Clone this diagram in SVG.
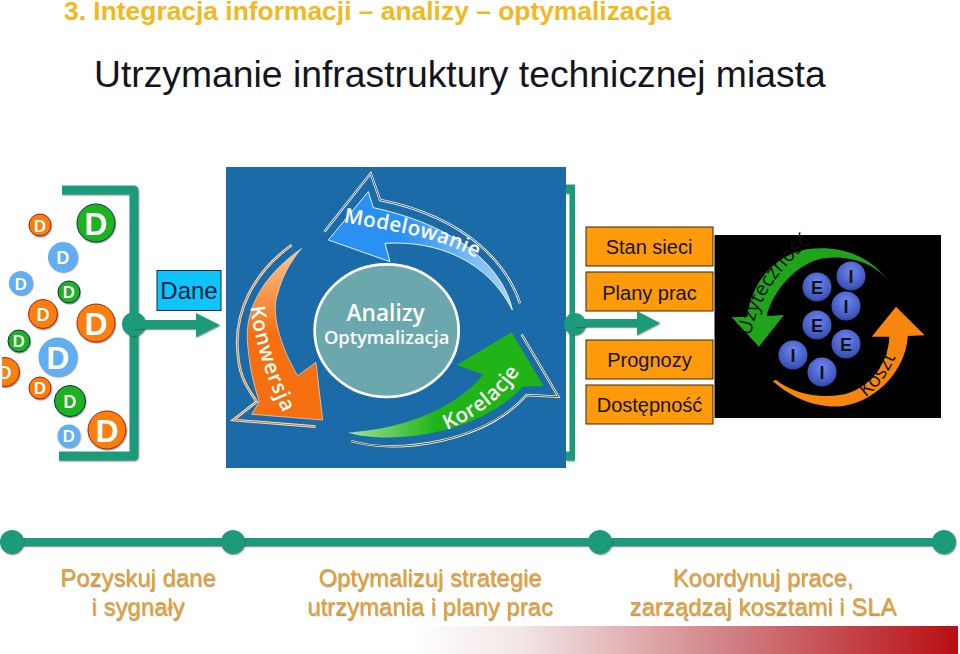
<svg xmlns="http://www.w3.org/2000/svg" width="960" height="654" viewBox="0 0 960 654">
<style>
text{font-family:"Liberation Sans",Arial,sans-serif}
.title{font-size:26.4px;font-weight:bold;fill:#f2b81e}
.sub{font-size:37.3px;fill:#14141e}
.dw{font-weight:bold;fill:#fff;text-anchor:middle}
.o{fill:#fb7f0b;stroke:#b01c0c;stroke-width:1}
.g{fill:#1fb41c;stroke:#0c2a66;stroke-width:1}
.b{fill:#62aef2}
.box{fill:#ff9a0a;stroke:#3a2408;stroke-width:1}
.bt{font-size:20px;fill:#14141e;text-anchor:middle}
.ball{fill:url(#ball)}
.bl{font-size:18px;font-weight:bold;fill:#111;text-anchor:middle}
.cap{font-size:23.9px;fill:#e8a02c;text-anchor:middle;filter:url(#sh)}
.line{fill:none;stroke:#1f9b7a;stroke-width:9;stroke-linejoin:round;filter:url(#sh)}
.fillg{fill:#1f9b7a;filter:url(#sh)}
.hand{font-family:"Open Sans","DejaVu Sans",sans-serif;fill:#fff;font-size:62px;font-weight:600}
.dark{font-family:"Open Sans","DejaVu Sans",sans-serif;fill:#111;font-size:60px}
</style>
<defs>
<filter id="sh" x="-10%" y="-30%" width="120%" height="160%"><feDropShadow dx="0.6" dy="1.2" stdDeviation="0.7" flood-color="#444" flood-opacity="0.55"/></filter>
<linearGradient id="fade" x1="410" y1="0" x2="958" y2="0" gradientUnits="userSpaceOnUse"><stop offset="0" stop-color="#fff"/><stop offset="0.2" stop-color="#f3e6e6"/><stop offset="0.6" stop-color="#cf7c80"/><stop offset="1" stop-color="#b80e12"/></linearGradient>
<linearGradient id="gb" x1="310" y1="0" x2="862" y2="0" gradientUnits="userSpaceOnUse"><stop offset="0.4" stop-color="#2a90f4"/><stop offset="1" stop-color="#a8d4f6"/></linearGradient>
<linearGradient id="gg" x1="368" y1="0" x2="955" y2="0" gradientUnits="userSpaceOnUse"><stop offset="0" stop-color="#a6e09a"/><stop offset="0.45" stop-color="#20b418"/></linearGradient>
<linearGradient id="go" x1="0" y1="250" x2="0" y2="765" gradientUnits="userSpaceOnUse"><stop offset="0" stop-color="#fbc590"/><stop offset="0.5" stop-color="#f56f10"/></linearGradient>
<radialGradient id="ball" cx="0.5" cy="0.35" r="0.7"><stop offset="0" stop-color="#6f86f0"/><stop offset="0.8" stop-color="#3d55bb"/><stop offset="1" stop-color="#2a3a80"/></radialGradient>
<path id="pM" d="M355 172C480 195 650 215 770 288"/>
<path id="pK" d="M76 425C90 540 130 660 190 775"/>
<path id="pR" d="M665 795C760 755 840 695 890 610"/>
<path id="pU" d="M572 468C590 370 650 265 770 175"/>
<path id="pO" d="M915 652C960 620 990 575 1020 500"/>
</defs>

<text class="title" x="64" y="20">3. Integracja informacji – analizy – optymalizacja</text>
<text class="sub" x="94" y="87">Utrzymanie infrastruktury technicznej miasta</text>

<g id="panel">
<rect x="226" y="167" width="340" height="301" fill="#1c6ba9"/>
<g transform="translate(225 165) scale(.33333)">
<g id="arrow-modelowanie">
<path d="M885 415C850 310 740 160 465 105L437 25L298 200" fill="none" stroke="#fff" stroke-width="7"/>
<path d="M885 415C850 310 740 160 465 105L437 25L298 200" fill="none" stroke="#35587f" stroke-width="3"/>
<path d="M862 435C840 330 730 190 445 128L430 80L310 225L495 290L480 235C640 225 790 290 862 435Z" fill="url(#gb)" stroke="#e8f2fa" stroke-width="3"/>
<text class="hand"><textPath href="#pM" textLength="415" lengthAdjust="spacing">Modelowanie</textPath></text>
</g>
<g id="arrow-konwersja">
<path d="M200 240C90 320 20 440 40 580C45 640 75 680 95 710L25 765L272 785" fill="none" stroke="#f4e4d0" stroke-width="8"/>
<path d="M200 240C90 320 20 440 40 580C45 640 75 680 95 710L25 765L272 785" fill="none" stroke="#c97a2a" stroke-width="3"/>
<path d="M230 250C130 320 55 420 68 540C75 620 90 670 103 710L80 748L293 765L273 592L218 632C180 570 130 450 160 380C170 340 195 290 230 250Z" fill="url(#go)" stroke="#f6e2cc" stroke-width="2"/>
<text class="hand"><textPath href="#pK" textLength="335" lengthAdjust="spacing">Konwersja</textPath></text>
</g>
<g id="arrow-korelacje">
<path d="M378 828C520 870 780 830 905 690L1000 695L890 508" fill="none" stroke="#fff" stroke-width="7"/>
<path d="M378 828C520 870 780 830 905 690L1000 695L890 508" fill="none" stroke="#4c5a1e" stroke-width="3"/>
<path d="M368 803C500 840 760 810 893 665L955 662L860 502L695 600L775 628C700 720 560 790 368 803Z" fill="url(#gg)"/>
<text class="hand"><textPath href="#pR" textLength="285" lengthAdjust="spacing">Korelacje</textPath></text>
</g>
<g id="center">
<ellipse cx="485" cy="497" rx="216" ry="199" fill="#6aa8ae" stroke="#fff" stroke-width="8"/>
<text class="hand" x="482" y="468" text-anchor="middle" style="font-size:68px">Analizy</text>
<text class="hand" x="485" y="537" text-anchor="middle" style="font-size:55px">Optymalizacja</text>
</g>
</g>
</g>

<g id="connectors">
<path class="line" d="M62 190H134V456H59"/>
<circle class="fillg" cx="134" cy="324" r="12"/>
<path class="fillg" d="M134 320H196V313L220 325L196 337V329H134Z"/>
<path class="line" d="M566 189H574V456H566"/>
<circle class="fillg" cx="575" cy="324" r="11"/>
<path class="fillg" d="M575 319H637V311L660 323L637 335V327H575Z"/>
<rect class="fillg" x="12" y="538" width="932" height="8"/>
<circle class="fillg" cx="12" cy="542" r="12"/>
<circle class="fillg" cx="233" cy="542" r="12"/>
<circle class="fillg" cx="600" cy="542" r="12"/>
<circle class="fillg" cx="944" cy="542" r="12"/>
</g>

<g id="data-dots">
<clipPath id="c"><rect x="2" y="180" width="200" height="290"/></clipPath>
<g clip-path="url(#c)" filter="url(#sh)">
<circle class="o" cx="40" cy="225" r="11"/><text class="dw" x="40" y="231.500" font-size="17">D</text>
<circle class="g" cx="96" cy="223" r="19"/><text class="dw" x="96" y="234.500" font-size="32">D</text>
<circle class="b" cx="63" cy="257" r="15"/><text class="dw" x="63" y="263.500" font-size="18">D</text>
<circle class="b" cx="21" cy="283" r="12"/><text class="dw" x="21" y="289.500" font-size="17">D</text>
<circle class="g" cx="69" cy="292" r="11"/><text class="dw" x="69" y="298" font-size="17">D</text>
<circle class="o" cx="43" cy="314" r="14.500"/><text class="dw" x="43" y="320.500" font-size="18">D</text>
<circle class="o" cx="96" cy="323" r="19"/><text class="dw" x="96" y="334.500" font-size="32">D</text>
<circle class="g" cx="19" cy="341" r="11"/><text class="dw" x="19" y="347" font-size="17">D</text>
<circle class="b" cx="58" cy="357" r="19.500"/><text class="dw" x="58" y="368.500" font-size="32">D</text>
<circle class="o" cx="5" cy="372" r="14.500"/><text class="dw" x="5" y="378.500" font-size="18">D</text>
<circle class="o" cx="40" cy="388" r="11"/><text class="dw" x="40" y="394" font-size="17">D</text>
<circle class="g" cx="70" cy="401" r="15.500"/><text class="dw" x="70" y="407.500" font-size="18">D</text>
<circle class="b" cx="69" cy="436" r="11.500"/><text class="dw" x="69" y="442" font-size="17">D</text>
<circle class="o" cx="107" cy="430" r="19"/><text class="dw" x="107" y="441.500" font-size="32">D</text>
</g>
</g>

<g id="dane"><rect x="157" y="270.500" width="64" height="40" fill="#0dc4fb" stroke="#0b2a4a"/><text x="189" y="299" font-size="24" fill="#0a1a3a" text-anchor="middle">Dane</text></g>

<g id="stan-sieci"><rect class="box" x="586" y="227" width="127" height="39"/><text class="bt" x="649" y="254">Stan sieci</text></g>
<g id="plany-prac"><rect class="box" x="586" y="272" width="127" height="39"/><text class="bt" x="649.500" y="300">Plany prac</text></g>
<g id="prognozy"><rect class="box" x="586" y="340" width="127" height="39"/><text class="bt" x="649.500" y="367">Prognozy</text></g>
<g id="dostepnosc"><rect class="box" x="586" y="385" width="127" height="39"/><text class="bt" x="649.500" y="412">Dostępność</text></g>

<g id="value-panel">
<rect x="714.500" y="235" width="226.500" height="183"/>
<g transform="translate(560 180) scale(.33333)">
<path d="M992 312C930 220 830 195 740 208C650 225 575 300 562 410L515 412L597 500L672 405L620 408C640 330 710 250 790 235C870 225 950 250 992 312Z" fill="#22a31c"/>
<path d="M1008 380L1094 466L1043 468C1040 560 960 660 850 678C770 688 690 650 638 603L648 600C700 640 770 655 840 645C930 630 985 550 988 470L935 470Z" fill="#f7860f"/>
<text class="dark"><textPath href="#pU" textLength="340" lengthAdjust="spacingAndGlyphs">Użyteczność</textPath></text>
<text class="dark"><textPath href="#pO" textLength="155" lengthAdjust="spacing">Koszt</textPath></text>
</g>
<g id="e1"><circle class="ball" cx="817" cy="287" r="14.500"/><text class="bl" x="817" y="293.500">E</text></g>
<g id="i1"><circle class="ball" cx="851" cy="276" r="14.500"/><text class="bl" x="851" y="282.500">I</text></g>
<g id="i2"><circle class="ball" cx="846" cy="306" r="14.500"/><text class="bl" x="846" y="312.500">I</text></g>
<g id="e2"><circle class="ball" cx="817" cy="325" r="14.500"/><text class="bl" x="817" y="331.500">E</text></g>
<g id="e3"><circle class="ball" cx="846" cy="344" r="14.500"/><text class="bl" x="846" y="350.500">E</text></g>
<g id="i3"><circle class="ball" cx="793" cy="355" r="14.500"/><text class="bl" x="793" y="361.500">I</text></g>
<g id="i4"><circle class="ball" cx="822" cy="372" r="14.500"/><text class="bl" x="822" y="378.500">I</text></g>
</g>

<g id="captions">
<text class="cap" x="138" y="586">Pozyskuj dane</text><text class="cap" x="138" y="615">i sygnały</text>
<text class="cap" x="430" y="586">Optymalizuj strategie</text><text class="cap" x="430" y="615">utrzymania i plany prac</text>
<text class="cap" x="763" y="586">Koordynuj prace,</text><text class="cap" x="763" y="615">zarządzaj kosztami i SLA</text>
</g>
<rect id="fade-band" x="400" y="626" width="558" height="28" fill="url(#fade)"/>
</svg>
